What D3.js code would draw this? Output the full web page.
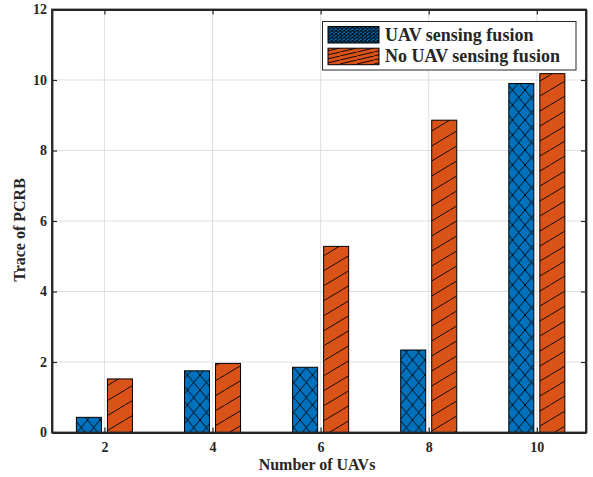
<!DOCTYPE html>
<html>
<head>
<meta charset="utf-8">
<script src="https://cdn.jsdelivr.net/npm/d3@7"></script>
<style>
  body { margin: 0; background: #fff; }
  svg { display: block; }
  text { font-family: "Liberation Serif", "Times New Roman", serif; font-weight: bold; fill: #262626; }
</style>
</head>
<body>
<svg id="chart" width="593" height="477"></svg>
<script>
// data
const uavCounts = [2, 4, 6, 8, 10]
const withFusion = [0.43, 1.75, 1.85, 2.34, 9.90]
const withoutFusion = [1.52, 1.96, 5.28, 8.86, 10.18]
const seriesNames = ['UAV sensing fusion', 'No UAV sensing fusion']
const yTicks = [0, 2, 4, 6, 8, 10, 12]

// layout
const plotLeft = 52, plotRight = 586, plotTop = 9.5, plotBottom = 432.5
const barWidth = 0.463   // in x units
const barOffset = 0.287
const blue = '#0072BD', orange = '#D95319'

const svg = d3.select('#chart')

const x = d3.scaleLinear().domain([1.03, 10.91]).range([plotLeft, plotRight])
const y = d3.scaleLinear().domain([0, 12]).range([plotBottom, plotTop])

// hatch patterns
const defs = svg.append('defs')

const addCross = (id, w, h, color) => {
    const p = defs.append('pattern').attr('id', id)
        .attr('patternUnits', 'userSpaceOnUse').attr('width', w).attr('height', h)
    p.append('rect').attr('width', w).attr('height', h).attr('fill', color)
    p.append('path').attr('d', `M0,0L${w},${h}M0,${h}L${w},0`)
        .attr('stroke', '#000').attr('stroke-width', 0.9).attr('fill', 'none')
}
const addDiag = (id, w, h, color) => {
    const p = defs.append('pattern').attr('id', id)
        .attr('patternUnits', 'userSpaceOnUse').attr('width', w).attr('height', h)
    p.append('rect').attr('width', w).attr('height', h).attr('fill', color)
    p.append('path').attr('d', `M0,${h}L${w},0M${-w},${h}L0,0M${w},${h}L${2 * w},0`)
        .attr('stroke', '#000').attr('stroke-width', 0.9).attr('fill', 'none')
}
addCross('crossBar', 12.5, 15, blue)
addDiag('diagBar', 25, 15, orange)
addCross('crossLeg', 4.2, 3.4, blue)
addDiag('diagLeg', 17, 4, orange)

// grid
const grid = svg.append('g')
grid.selectAll('line.gy').data(yTicks.slice(1, -1)).join('line')
    .attr('x1', plotLeft).attr('x2', plotRight)
    .attr('y1', d => y(d)).attr('y2', d => y(d))
    .attr('stroke', '#dfdfdf').attr('stroke-width', 1)
grid.selectAll('line.gx').data(uavCounts).join('line')
    .attr('x1', d => x(d)).attr('x2', d => x(d))
    .attr('y1', plotTop).attr('y2', plotBottom)
    .attr('stroke', '#dfdfdf').attr('stroke-width', 1)

// bars
const bars = svg.append('g')
const drawSeries = (vals, off, fill) => {
    bars.selectAll(null).data(vals).join('rect')
        .attr('x', (d, i) => x(uavCounts[i] + off - barWidth / 2))
        .attr('width', x(barWidth) - x(0))
        .attr('y', d => y(d))
        .attr('height', d => y(0) - y(d))
        .attr('fill', fill)
        .attr('stroke', '#000').attr('stroke-width', 1)
}
drawSeries(withFusion, -barOffset, 'url(#crossBar)')
drawSeries(withoutFusion, barOffset, 'url(#diagBar)')

// axes box
const axisColor = '#262626'
const tickLen = 5
const bottomAxis = svg.append('g').attr('transform', `translate(0,${plotBottom})`)
    .call(d3.axisBottom(x).tickValues(uavCounts).tickSize(-tickLen).tickPadding(10).tickSizeOuter(0))
const leftAxis = svg.append('g').attr('transform', `translate(${plotLeft},0)`)
    .call(d3.axisLeft(y).tickValues(yTicks).tickSize(-tickLen).tickPadding(5).tickSizeOuter(0))
const topAxis = svg.append('g').attr('transform', `translate(0,${plotTop})`)
    .call(d3.axisTop(x).tickValues(uavCounts).tickSize(-tickLen).tickFormat('').tickSizeOuter(0))
const rightAxis = svg.append('g').attr('transform', `translate(${plotRight},0)`)
    .call(d3.axisRight(y).tickValues(yTicks).tickSize(-tickLen).tickFormat('').tickSizeOuter(0))

;[bottomAxis, leftAxis, topAxis, rightAxis].forEach(g => {
    g.select('.domain').attr('stroke', axisColor).attr('stroke-width', 1.8)
    g.selectAll('.tick line').attr('stroke', axisColor).attr('stroke-width', 1.2)
    g.selectAll('.tick text').attr('fill', axisColor)
        .style('font-family', '"Liberation Serif", serif').style('font-weight', 'bold').style('font-size', '14px')
})
// clean up the corners of the box
svg.append('rect').attr('x', plotLeft).attr('y', plotTop)
    .attr('width', plotRight - plotLeft).attr('height', plotBottom - plotTop)
    .attr('fill', 'none').attr('stroke', axisColor).attr('stroke-width', 1.8)

// axis titles
svg.append('text').attr('x', (plotLeft + plotRight) / 2 - 2).attr('y', 470)
    .attr('text-anchor', 'middle').style('font-size', '16px').text('Number of UAVs')
svg.append('text').attr('transform', 'translate(25,230) rotate(-90)')
    .attr('text-anchor', 'middle').style('font-size', '16px').text('Trace of PCRB')

// legend
const legend = svg.append('g')
legend.append('rect').attr('x', 322.5).attr('y', 21.5).attr('width', 253.5).attr('height', 48.5)
    .attr('fill', '#fff').attr('stroke', axisColor).attr('stroke-width', 1)
const legFills = ['url(#crossLeg)', 'url(#diagLeg)']
seriesNames.forEach((name, i) => {
    const ry = 26.5 + i * 21.7
    legend.append('rect').attr('x', 328).attr('y', ry).attr('width', 51).attr('height', 16.5)
        .attr('fill', legFills[i]).attr('stroke', '#000').attr('stroke-width', 1)
    legend.append('text').attr('x', 385).attr('y', ry + 14)
        .style('font-size', '18px').attr('fill', '#000').text(name)
})
</script>
</body>
</html>
